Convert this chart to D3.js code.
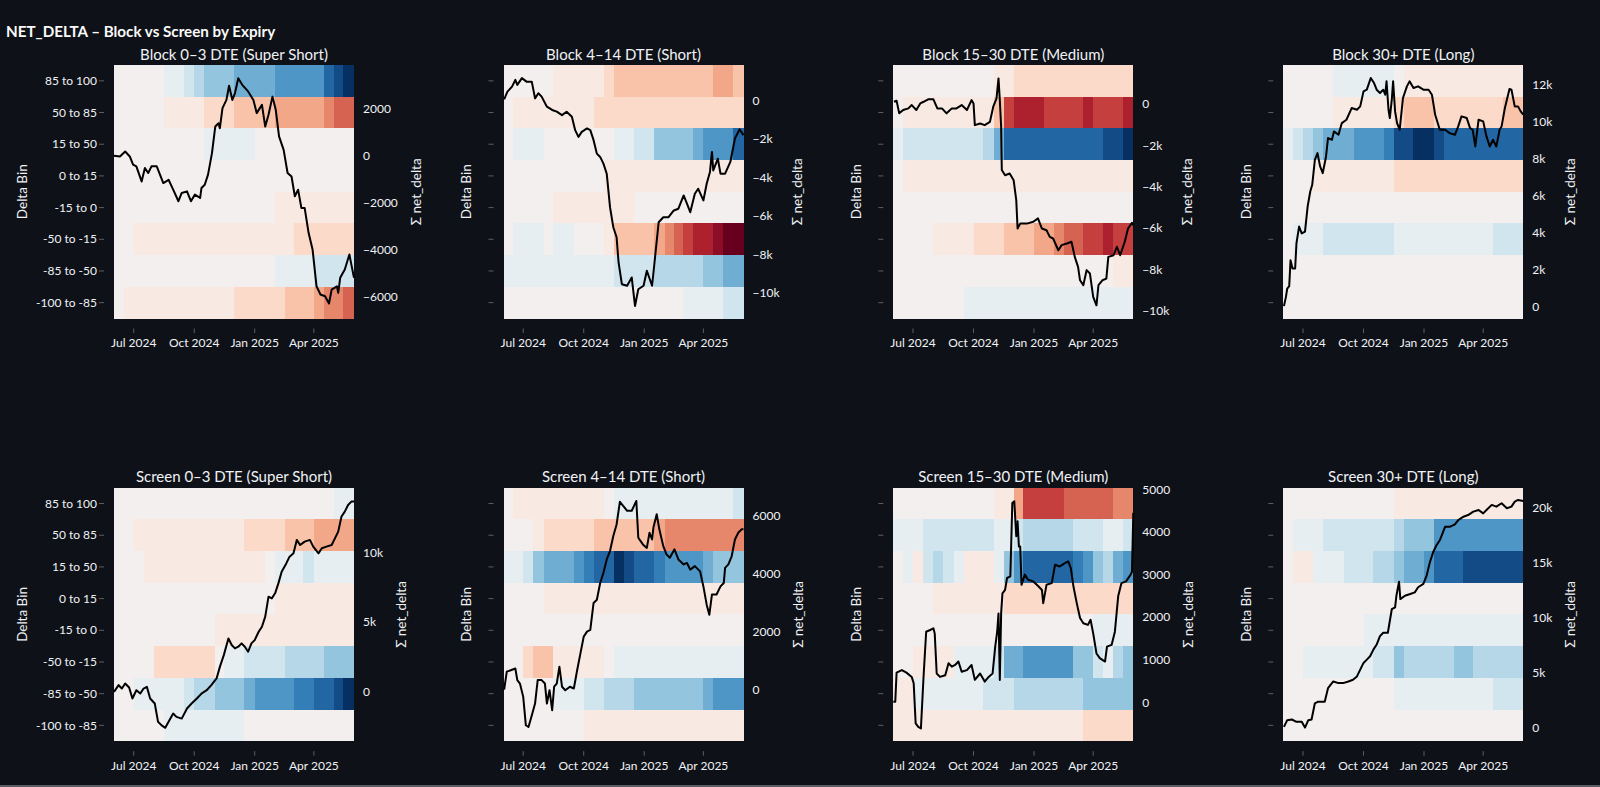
<!DOCTYPE html>
<html>
<head>
<meta charset="utf-8">
<script src="https://cdn.jsdelivr.net/npm/d3@7"></script>
<style>
  body { margin: 0; background: #0e1117; }
  svg { display: block; }
</style>
</head>
<body>
<div id="chart"></div>
<script>
// Delta bins, top row first
const binLabels = ["85 to 100", "50 to 85", "15 to 50", "0 to 15", "-15 to 0", "-50 to -15", "-85 to -50", "-100 to -85"];

const panelTitles = [
  "Block 0–3 DTE (Super Short)", "Block 4–14 DTE (Short)", "Block 15–30 DTE (Medium)", "Block 30+ DTE (Long)",
  "Screen 0–3 DTE (Super Short)", "Screen 4–14 DTE (Short)", "Screen 15–30 DTE (Medium)", "Screen 30+ DTE (Long)"
];

const xTickDates = ["2024-07-01", "2024-10-01", "2025-01-01", "2025-04-01"];
const xTickLabels = ["Jul 2024", "Oct 2024", "Jan 2025", "Apr 2025"];

// heatmap: net_delta intensity per bin, half-month columns from Jun 2024 to May 2025 (-10..10, + = red)
const block03Heat = [
  [0,0,0,0,0,-1,-1,-2,-3,-4,-4,-4,-5,-5,-5,-5,-6,-6,-6,-6,-6,-8,-9,-10],
  [0,0,0,0,0,1,1,1,1,2,2,2,3,3,3,3,4,4,4,4,4,5,6,6],
  [0,0,0,0,0,0,0,0,0,-1,-1,-1,-1,-1,0,0,0,0,0,0,0,0,0,0],
  [0,0,0,0,0,0,0,0,0,0,0,0,0,0,0,0,0,0,0,0,0,0,0,0],
  [0,0,0,0,0,0,0,0,0,0,0,0,0,0,0,0,1,1,1,1,1,1,1,1],
  [0,0,1,1,1,1,1,1,1,1,1,1,1,1,1,1,1,1,2,2,2,2,2,2],
  [0,0,0,0,0,0,0,0,0,0,0,0,0,0,0,0,-1,-1,-1,-1,-2,-2,-2,-2],
  [0,1,1,1,1,1,1,1,1,1,1,1,2,2,2,2,2,3,3,3,4,5,5,6]
];
const block414Heat = [
  [0,0,0,0,0,1,1,1,1,1,2,3,3,3,3,3,3,3,3,3,3,4,4,3],
  [0,1,1,1,1,1,1,1,1,2,2,2,2,2,2,2,2,2,2,2,2,2,2,2],
  [0,-1,-1,-1,0,0,0,0,0,0,0,-1,-1,-2,-2,-4,-4,-4,-4,-5,-6,-6,-6,-8],
  [0,0,0,0,0,0,0,0,0,0,1,1,1,1,1,1,1,1,1,1,1,1,1,1],
  [0,0,0,0,0,1,1,1,1,1,1,1,1,0,0,0,0,0,0,0,0,0,0,0],
  [0,-1,-1,-1,0,-1,-1,0,0,0,1,3,3,3,3,4,5,6,7,8,8,9,10,10],
  [-1,-1,-1,-1,-1,-1,-1,-1,-1,-1,-1,-2,-2,-2,-2,-3,-3,-3,-3,-3,-4,-4,-5,-5],
  [0,0,0,0,0,0,0,0,0,0,0,0,0,0,0,0,0,0,-1,-1,-1,-1,-2,-2]
];
const block1530Heat = [
  [0,0,0,0,0,0,0,0,0,0,1,1,2,2,2,2,2,2,2,2,2,2,2,2],
  [0,1,1,1,1,1,1,1,1,1,3,7,8,8,8,7,7,7,7,8,7,7,7,8],
  [-1,-2,-2,-2,-2,-2,-2,-2,-2,-3,-5,-8,-8,-8,-8,-8,-8,-8,-8,-8,-8,-9,-9,-10],
  [0,1,1,1,1,1,1,1,1,1,1,1,1,1,1,1,1,1,1,1,1,1,1,1],
  [0,0,0,0,0,0,0,0,0,0,0,0,0,0,0,0,0,0,0,0,0,0,0,0],
  [0,0,0,0,1,1,1,1,2,2,2,3,3,3,4,4,5,6,6,7,7,8,7,7],
  [0,0,0,0,0,0,0,0,0,0,0,0,0,0,0,0,0,0,0,0,0,0,1,1],
  [0,0,0,0,0,0,0,-1,-1,-1,-1,-1,-1,-1,-1,-1,-1,-1,-1,-1,-1,-1,-1,-1]
];
const block30Heat = [
  [0,0,0,0,0,-1,-1,-1,-1,-1,-1,0,1,1,1,1,1,1,1,1,1,1,1,1],
  [0,0,0,0,0,1,1,1,1,1,1,2,3,3,3,2,2,2,2,2,2,2,3,3],
  [-1,-2,-3,-4,-5,-5,-5,-6,-6,-6,-7,-9,-9,-10,-10,-9,-8,-8,-8,-8,-8,-8,-8,-8],
  [0,0,0,1,1,1,1,1,1,1,1,2,2,2,2,2,2,2,2,2,2,2,2,2],
  [0,0,0,0,0,0,0,0,0,0,0,0,0,0,0,0,0,0,0,0,0,0,0,0],
  [0,-1,-1,-1,-2,-2,-2,-2,-2,-2,-2,-1,-1,-1,-1,-1,-1,-1,-1,-1,-1,-2,-2,-2],
  [0,0,0,0,0,0,0,0,0,0,0,0,0,0,0,0,0,0,0,0,0,0,0,0],
  [0,0,0,0,0,0,0,0,0,0,0,0,0,0,0,0,0,0,0,0,0,0,0,0]
];
const screen03Heat = [
  [0,0,0,0,0,0,0,0,0,0,0,0,0,0,0,0,0,0,0,0,0,0,-1,-1],
  [0,0,1,1,1,1,1,1,1,1,1,1,1,2,2,2,2,3,3,3,4,4,4,4],
  [0,0,0,1,1,1,1,1,1,1,1,1,1,1,1,0,-1,-1,-1,-2,-1,-1,-1,-1],
  [0,0,0,0,0,0,0,0,0,0,0,0,0,0,0,0,1,1,1,1,1,1,1,1],
  [0,0,0,0,0,0,0,0,0,0,1,1,1,1,1,1,1,1,1,1,1,1,1,1],
  [0,0,0,0,2,2,2,2,2,2,0,-1,-1,-2,-2,-2,-2,-3,-3,-3,-3,-4,-4,-4],
  [0,0,-1,-1,-1,-1,-1,-2,-3,-3,-4,-4,-4,-5,-6,-6,-6,-6,-7,-7,-8,-8,-9,-10],
  [0,0,0,0,0,-1,-1,-1,-1,-1,-1,-1,-1,0,0,0,0,0,0,0,0,0,0,0]
];
const screen414Heat = [
  [0,1,1,1,1,1,1,1,1,1,0,-1,-1,-1,-1,-1,-1,-1,-1,-1,-1,-1,-1,-2],
  [0,0,0,1,2,2,2,2,2,3,3,3,3,3,3,4,5,5,5,5,5,5,5,5],
  [-1,-1,-2,-4,-5,-5,-5,-6,-7,-8,-8,-10,-9,-8,-8,-7,-6,-6,-6,-6,-5,-4,-4,-4],
  [0,0,0,0,1,1,1,1,1,1,1,1,1,1,1,1,1,1,1,1,1,1,1,1],
  [0,0,0,0,0,0,0,0,0,0,0,0,0,0,0,0,0,0,0,0,0,0,0,0],
  [0,0,2,3,3,1,1,1,1,1,0,-1,-1,-1,-1,-1,-1,-1,-1,-1,-1,-1,-1,-1],
  [0,0,0,0,0,-1,-1,-1,-2,-2,-3,-3,-3,-4,-4,-4,-4,-4,-4,-4,-5,-6,-6,-6],
  [0,0,0,0,0,0,0,0,1,1,1,1,1,1,1,1,1,1,1,1,1,1,1,1]
];
const screen1530Heat = [
  [0,0,0,0,0,0,0,0,0,0,1,1,4,7,7,7,7,6,6,6,6,6,5,5],
  [-1,-1,-1,-2,-2,-2,-2,-2,-2,-2,-1,-1,-2,-3,-3,-3,-3,-3,-2,-2,-2,-1,-1,-2],
  [0,-1,1,-2,-3,-2,-1,1,1,1,-1,-4,-6,-8,-8,-8,-8,-8,-7,-6,-4,-3,-5,-6],
  [0,0,0,0,1,1,1,1,1,1,1,2,2,2,2,2,2,2,2,2,2,2,2,2],
  [0,0,0,0,0,0,0,0,0,0,0,0,0,0,0,0,0,0,0,0,-1,-1,-1,-1],
  [0,0,1,1,1,1,-1,-1,-1,-1,-2,-5,-5,-6,-6,-6,-6,-6,-4,-4,-2,-1,-3,-4],
  [1,1,-1,-1,-1,-1,-1,-1,-1,-2,-2,-2,-3,-3,-3,-3,-3,-3,-3,-4,-4,-4,-4,-4],
  [1,1,1,1,1,1,1,1,1,1,1,1,1,1,1,1,1,1,1,2,2,2,2,2]
];
const screen30Heat = [
  [0,0,0,0,0,0,0,0,0,0,0,1,1,1,1,1,1,1,1,1,1,1,1,1],
  [0,-1,-1,-1,-2,-2,-2,-2,-2,-2,-2,-3,-4,-4,-4,-6,-6,-6,-6,-6,-6,-6,-6,-6],
  [0,1,1,-1,-1,-1,-2,-2,-2,-3,-3,-4,-5,-5,-6,-8,-8,-8,-9,-9,-9,-9,-9,-9],
  [0,0,0,0,0,0,0,0,0,0,0,0,0,0,0,0,0,0,0,0,0,0,0,0],
  [0,0,0,0,0,0,0,0,-1,-1,-1,-1,-1,-1,-1,-1,-1,-1,-1,-1,-1,-1,-1,-1],
  [0,0,-1,-1,-1,-1,-1,-1,-1,-2,-2,-4,-3,-3,-3,-3,-3,-4,-4,-3,-3,-3,-3,-3],
  [0,0,0,0,0,0,0,0,0,0,0,-1,-1,-1,-1,-1,-1,-1,-1,-1,-1,-2,-2,-2],
  [0,0,0,0,0,0,0,0,0,0,0,0,0,0,0,0,0,0,0,0,0,0,0,0]
];

// cumulative net_delta line: [days since 2024-06-01, value]
const block03Line = [[0,0],[9,-30],[17,180],[24,-30],[29,-380],[34,-450],[42,-1090],[47,-520],[52,-730],[57,-450],[65,-450],[75,-1160],[83,-1020],[90,-1440],[98,-1930],[103,-1580],[111,-1510],[117,-1930],[123,-1650],[131,-1790],[133,-1370],[138,-1230],[143,-800],[149,110],[154,1240],[159,1380],[161,1170],[165,2020],[171,2370],[175,2970],[180,2370],[184,2660],[189,3290],[195,3010],[204,2730],[212,2370],[217,1810],[225,2160],[230,1240],[235,1740],[241,2510],[246,1950],[251,820],[258,250],[264,-730],[270,-880],[275,-1720],[280,-1440],[285,-2220],[290,-2220],[296,-3280],[302,-3980],[308,-5540],[314,-5890],[321,-5960],[327,-6270],[331,-5680],[339,-5540],[341,-5820],[344,-5180],[351,-4830],[358,-4190],[361,-4620],[365,-5180]];
const block414Line = [[1,50],[6,450],[13,710],[18,1060],[21,800],[28,1150],[35,970],[43,970],[48,100],[53,370],[58,190],[66,-330],[74,-500],[81,-590],[89,-770],[96,-590],[104,-850],[109,-1550],[114,-1900],[119,-1640],[127,-1460],[132,-1550],[137,-2070],[142,-2770],[147,-2940],[152,-3290],[157,-3810],[162,-5550],[167,-6590],[172,-7110],[175,-8420],[180,-9550],[188,-9630],[195,-9200],[200,-10680],[205,-9810],[213,-9630],[218,-8850],[226,-9630],[231,-7980],[236,-6330],[243,-6070],[251,-6070],[259,-5720],[266,-5630],[274,-4940],[279,-5370],[284,-5810],[291,-4850],[296,-4590],[304,-5200],[309,-4330],[314,-3720],[317,-2680],[319,-3640],[326,-3030],[330,-3810],[337,-3810],[345,-3200],[352,-1980],[359,-1510],[365,-1810]];
const block1530Line = [[1,110],[5,160],[9,-450],[15,-290],[23,-210],[28,-50],[35,-290],[41,30],[46,110],[53,230],[61,230],[67,-210],[74,-210],[81,-450],[89,-210],[96,-210],[104,-50],[112,-290],[119,190],[122,30],[124,-1020],[132,-940],[139,-1020],[147,-860],[152,-130],[157,270],[160,1240],[162,190],[164,-1100],[165,-3190],[170,-3440],[177,-3360],[183,-3680],[187,-4650],[189,-6020],[193,-5780],[203,-5780],[213,-5690],[220,-5530],[226,-6020],[233,-6100],[238,-6420],[243,-6500],[251,-7070],[256,-6820],[264,-6740],[271,-6660],[276,-7390],[281,-7870],[284,-8520],[289,-8760],[294,-8030],[299,-8190],[304,-9320],[309,-9730],[312,-8760],[318,-8520],[324,-8440],[327,-7390],[335,-7310],[340,-6900],[345,-7310],[352,-6660],[357,-6020],[363,-5740],[365,-5860]];
const block30Line = [[1,40],[4,540],[6,990],[9,1120],[11,2520],[14,2070],[18,2070],[20,3420],[24,4330],[28,3960],[33,4060],[37,5410],[41,6220],[44,6580],[48,7930],[52,8290],[56,7570],[60,7210],[65,8110],[68,9100],[74,9010],[77,9460],[84,9280],[89,9910],[96,10090],[104,10720],[112,10630],[117,10810],[122,11620],[127,11710],[133,12340],[138,12070],[142,11710],[147,11530],[152,11710],[155,11440],[157,12160],[160,10630],[162,10180],[165,11170],[167,12160],[170,10540],[173,9910],[177,9550],[182,11260],[188,11890],[192,12160],[198,11800],[205,11890],[213,11710],[221,11710],[226,11440],[231,10360],[238,9550],[246,9550],[253,9370],[261,9280],[266,9730],[271,10270],[279,10180],[284,9640],[288,9550],[292,8650],[297,10090],[304,10000],[309,9190],[314,8650],[319,9010],[324,8650],[329,9550],[332,9730],[337,10720],[344,11750],[347,11710],[352,10810],[357,10810],[361,10540],[365,10360]];
const screen03Line = [[0,20],[7,500],[12,260],[17,620],[23,330],[28,-450],[34,140],[40,-100],[45,260],[50,380],[55,-450],[62,-810],[67,-2120],[72,-2360],[78,-2550],[83,-2120],[90,-1530],[95,-1770],[103,-1890],[111,-1170],[118,-810],[126,-450],[133,-100],[141,140],[148,500],[156,980],[161,1810],[167,2650],[174,3840],[179,3370],[184,3130],[189,3250],[194,3490],[199,3250],[204,2890],[209,3490],[214,3720],[220,4320],[225,4680],[230,5400],[235,6830],[240,6710],[245,7070],[250,7780],[255,8620],[262,9210],[267,9690],[273,9930],[278,10890],[283,10530],[290,10770],[298,10890],[303,10410],[311,9930],[316,10290],[323,10410],[331,10530],[336,11000],[341,11480],[346,12560],[351,12910],[356,13390],[361,13630],[365,13630]];
const screen414Line = [[1,20],[5,640],[11,690],[18,750],[21,350],[25,230],[30,-230],[34,-1210],[38,-1270],[43,-870],[48,-460],[52,350],[58,350],[63,230],[66,-460],[70,0],[74,-690],[77,120],[81,230],[85,810],[89,120],[94,0],[101,120],[107,60],[112,690],[117,1270],[122,1850],[127,2020],[132,2080],[137,3010],[142,3120],[147,3700],[152,4050],[157,4510],[162,4800],[167,5320],[172,5720],[177,6500],[182,6360],[188,6190],[195,6190],[202,6530],[205,5260],[212,5030],[218,4910],[222,5430],[226,5200],[228,5610],[233,6070],[237,5550],[243,4970],[248,4680],[253,4570],[260,4860],[266,4510],[274,4340],[279,4390],[284,4160],[291,4280],[299,4100],[304,3580],[309,2950],[313,2600],[317,3300],[324,3300],[330,3580],[335,3700],[337,4220],[342,4340],[347,4620],[352,5200],[357,5430],[362,5550],[365,5550]];
const screen1530Line = [[0,20],[3,20],[5,700],[13,760],[20,700],[28,600],[31,450],[34,-490],[38,-570],[42,-610],[46,600],[50,1660],[56,1700],[61,1740],[63,1620],[66,680],[71,600],[79,640],[84,920],[89,840],[94,880],[99,960],[104,720],[112,760],[119,880],[124,530],[132,680],[139,490],[145,600],[151,680],[155,1310],[158,1660],[160,2090],[162,530],[164,2090],[166,2560],[170,2640],[173,2920],[178,2960],[181,4680],[184,4720],[187,3900],[189,4250],[191,3660],[193,3660],[195,2760],[200,3000],[205,2880],[213,2840],[221,2720],[226,2640],[228,2330],[233,2760],[241,2800],[246,3230],[253,3190],[261,3270],[266,3310],[270,3150],[274,2720],[279,2330],[284,1980],[289,1860],[296,1820],[300,1940],[304,1620],[309,1150],[314,1040],[322,960],[325,1310],[332,1350],[337,1660],[342,2490],[347,2800],[354,2840],[361,3000],[363,3070],[365,4450]];
const screen30Line = [[1,90],[6,700],[13,760],[20,550],[28,550],[33,30],[38,700],[43,760],[48,2230],[53,2380],[63,2380],[68,3600],[76,4210],[84,4060],[91,4060],[99,4210],[106,4360],[112,4670],[117,5280],[122,5890],[127,6190],[132,6490],[137,7100],[142,7560],[147,8320],[152,8630],[159,8630],[165,10760],[170,10920],[172,11980],[176,13260],[178,11680],[185,11980],[193,12140],[200,12290],[205,12750],[213,13050],[218,13810],[223,15030],[228,15950],[233,16560],[238,17010],[246,18230],[253,18230],[261,18450],[266,18840],[274,19150],[281,19300],[289,19610],[297,19760],[304,19450],[309,19760],[317,20220],[324,20060],[332,20370],[340,19910],[347,20060],[352,20520],[357,20670],[365,20580]];

// right axis (Σ net_delta) extents and ticks per panel
const rightDomains = [[-6907, 3852], [-11330, 1834], [-10368, 1887], [-626, 13041], [-3507, 14624], [-1759, 6986], [-908, 5038], [-1207, 21779]];
const rightTicks = [
  [-6000, -4000, -2000, 0, 2000],
  [-10000, -8000, -6000, -4000, -2000, 0],
  [-10000, -8000, -6000, -4000, -2000, 0],
  [0, 2000, 4000, 6000, 8000, 10000, 12000],
  [0, 5000, 10000],
  [0, 2000, 4000, 6000],
  [0, 1000, 2000, 3000, 4000, 5000],
  [0, 5000, 10000, 15000, 20000]
];
const rightKFormat = [false, true, true, true, true, false, false, true];

const heats = [block03Heat, block414Heat, block1530Heat, block30Heat, screen03Heat, screen414Heat, screen1530Heat, screen30Heat];
const lines = [block03Line, block414Line, block1530Line, block30Line, screen03Line, screen414Line, screen1530Line, screen30Line];

// Layout
const width = 1600, height = 787;
const plotW = 240, plotH = 253.5;
const colX = [114, 503.5, 893.3, 1283.3];
const rowY = [65, 487.7];
const font = "'Source Sans Pro', Lato, sans-serif";
const textColor = "#f0f2f6";

const start = new Date(Date.UTC(2024, 5, 1));
const end = new Date(Date.UTC(2025, 5, 1));

// half-month column edges
const colEdges = [];
d3.utcMonth.range(start, end).forEach(m => {
  colEdges.push(m);
  colEdges.push(d3.utcDay.offset(m, 15));
});
colEdges.push(end);

// RdBu, red for positive; faint levels kept close to white
const tone = d3.scaleLinear().domain([-10, -1, 0, 1, 10]).range([-10, -0.8, 0, 0.8, 10]);
const color = d3.scaleDiverging(t => d3.interpolateRdBu(1 - t)).domain([-10, 0, 10]);

const x = d3.scaleUtc().domain([start, end]).range([0, plotW]);
const y = d3.scaleBand().domain(binLabels).range([0, plotH]);

const svg = d3.select("#chart").append("svg")
    .attr("width", width)
    .attr("height", height)
    .style("font-family", font);

svg.append("rect").attr("width", width).attr("height", height).attr("fill", "#0e1117");

svg.append("text")
    .attr("x", 6)
    .attr("y", 36.5)
    .attr("fill", "#fafafa")
    .attr("font-size", 15.2)
    .attr("font-weight", 700)
    .text("NET_DELTA – Block vs Screen by Expiry");

heats.forEach((heat, i) => {
  const c = i % 4, r = Math.floor(i / 4);
  const g = svg.append("g").attr("transform", `translate(${colX[c]},${rowY[r]})`);

  // Heat cells
  const cells = [];
  heat.forEach((row, ri) => row.forEach((v, ci) => cells.push({ri, bin: binLabels[ri], ci, v})));
  g.append("g")
      .attr("shape-rendering", "crispEdges")
    .selectAll("rect")
    .data(cells)
    .join("rect")
      .attr("x", d => x(colEdges[d.ci]))
      .attr("y", d => y(d.bin))
      .attr("width", d => x(colEdges[d.ci + 1]) - x(colEdges[d.ci]) + (d.ci < 23 ? 1 : 0))
      .attr("height", d => y.bandwidth() + (d.ri < 7 ? 1 : 0))
      .attr("fill", d => color(tone(d.v)));

  // Title
  g.append("text")
    .attr("x", plotW / 2)
    .attr("y", -5.5)
    .attr("text-anchor", "middle")
    .attr("fill", textColor)
    .attr("font-size", 15)
    .text(panelTitles[i]);

  // Left axis (bins)
  const left = g.append("g");
  binLabels.forEach(b => {
    const yy = y(b) + y.bandwidth() / 2;
    left.append("line")
      .attr("x1", -15).attr("x2", -10)
      .attr("y1", yy).attr("y2", yy)
      .attr("stroke", "#5c5f66");
    if (c === 0) {
      left.append("text")
        .attr("x", -17)
        .attr("y", yy)
        .attr("dy", "0.35em")
        .attr("text-anchor", "end")
        .attr("fill", textColor)
        .attr("font-size", 12)
        .text(b);
    }
  });
  g.append("text")
    .attr("transform", `translate(${c === 0 ? -92 : -37},${plotH / 2}) rotate(-90)`)
    .attr("dy", "0.35em")
    .attr("text-anchor", "middle")
    .attr("fill", textColor)
    .attr("font-size", 13.5)
    .text("Delta Bin");

  // Bottom axis (dates)
  const bottom = g.append("g");
  xTickDates.forEach((d, k) => {
    const xx = x(new Date(d + "T00:00:00Z"));
    bottom.append("line")
      .attr("x1", xx).attr("x2", xx)
      .attr("y1", plotH + 10).attr("y2", plotH + 14.5)
      .attr("stroke", "#5c5f66");
    bottom.append("text")
      .attr("x", xx)
      .attr("y", plotH + 24.5)
      .attr("dy", "0.35em")
      .attr("text-anchor", "middle")
      .attr("fill", textColor)
      .attr("font-size", 12)
      .text(xTickLabels[k]);
  });

  // Right axis (Σ net_delta)
  const yR = d3.scaleLinear().domain(rightDomains[i]).range([plotH, 0]);
  const fmt = rightKFormat[i] ? d3.format("~s") : d3.format("d");
  const right = g.append("g");
  let maxW = 0;
  rightTicks[i].forEach(t => {
    const lbl = right.append("text")
      .attr("x", plotW + 9)
      .attr("y", yR(t))
      .attr("dy", "0.35em")
      .attr("fill", textColor)
      .attr("font-size", 12)
      .text(fmt(t));
    maxW = Math.max(maxW, lbl.node().getComputedTextLength());
  });
  g.append("text")
    .attr("transform", `translate(${plotW + 9 + maxW + 18},${plotH / 2}) rotate(-90)`)
    .attr("dy", "0.35em")
    .attr("text-anchor", "middle")
    .attr("fill", textColor)
    .attr("font-size", 13.5)
    .text("Σ net_delta");

  // Cumulative line
  const line = d3.line()
    .x(d => x(d3.utcDay.offset(start, d[0])))
    .y(d => yR(d[1]));
  g.append("path")
    .datum(lines[i])
    .attr("fill", "none")
    .attr("stroke", "#000")
    .attr("stroke-width", 2)
    .attr("stroke-linejoin", "round")
    .attr("d", line);
});

svg.append("rect")
    .attr("x", 0).attr("y", 785)
    .attr("width", width).attr("height", 2)
    .attr("fill", "#5a5d63");
</script>
</body>
</html>
